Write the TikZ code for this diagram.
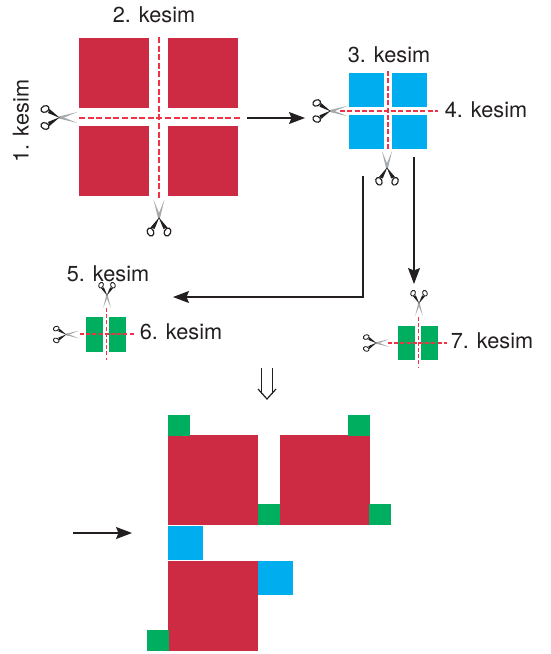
\documentclass[tikz,border=0pt]{standalone}
\usepackage{fontspec}
\setmainfont{TeX Gyre Heros}
\usetikzlibrary{arrows.meta}
\definecolor{redbox}{RGB}{204,43,67}
\definecolor{bluebox}{RGB}{0,174,239}
\definecolor{greenbox}{RGB}{0,174,96}
\definecolor{cutred}{RGB}{240,50,70}
\definecolor{inkdark}{RGB}{35,31,32}
\definecolor{bladegray}{RGB}{165,168,172}
\tikzset{
  redrect/.style={fill=redbox,draw=none},
  bluerect/.style={fill=bluebox,draw=none},
  greenrect/.style={fill=greenbox,draw=none},
  label/.style={font=\fontsize{21.7}{24}\selectfont,text=inkdark,inner sep=0pt},
  cutbig/.style={draw=cutred,line width=1.8pt,dash pattern=on 6pt off 2.6pt},
  cutmid/.style={draw=cutred,line width=1.5pt,dash pattern=on 5pt off 2.3pt},
  cutsmall/.style={draw=cutred,line width=1.25pt,dash pattern=on 4pt off 2.2pt},
  flow/.style={draw=inkdark,line width=1.15pt,-{Stealth[length=16pt,width=12pt,inset=2.5pt]}},
  dblarrow/.style={draw=inkdark,line width=1.2pt},
}
% scissors: pivot at #1,#2; blades toward +x before rotation #3; size factor #4
\newcommand{\scissorsat}[4]{%
  \begin{scope}[shift={(#1,#2)},rotate=#3,scale=#4]
    \fill[bladegray] (0,-1) -- (18.5,-5.5) -- (2,1.2) -- cycle;
    \fill[bladegray] (0,1) -- (18.5,5.5) -- (2,-1.2) -- cycle;
    \fill[inkdark] (1,0.5) -- (-9.5,-8.5) -- (-11,-4.5) -- cycle;
    \fill[inkdark] (1,-0.5) -- (-9.5,8.5) -- (-11,4.5) -- cycle;
    \draw[inkdark,line width={#4*1.2pt},fill=white,rotate around={25:(-14,-8.5)}] (-14,-8.5) ellipse [x radius=4.2,y radius=3.2];
    \draw[inkdark,line width={#4*1.2pt},fill=white,rotate around={-25:(-14,8.5)}] (-14,8.5) ellipse [x radius=4.2,y radius=3.2];
  \end{scope}}
\begin{document}
\begin{tikzpicture}[x=1pt,y=-1pt]
\useasboundingbox (0,0) rectangle (550,654);
\fill[white] (0,0) rectangle (550,654);
% first sheet
\path[redrect] (79,38) rectangle (149,108);
\path[redrect] (168,38) rectangle (238,108);
\path[redrect] (79,126) rectangle (149,196);
\path[redrect] (168,126) rectangle (238,196);
\draw[cutbig] (79,118) -- (241,118);
\draw[cutbig] (159,37) -- (159,200);
\scissorsat{59}{117.5}{0}{1}
\scissorsat{159}{218}{90}{1}
\node[label] at (154,15) {2. kesim};
\node[label,rotate=90] at (21,121) {1. kesim};
% second sheet
\path[bluerect] (349,73) rectangle (384,107);
\path[bluerect] (392,73) rectangle (427,107);
\path[bluerect] (349,115) rectangle (384,149);
\path[bluerect] (392,115) rectangle (427,149);
\draw[cutmid] (340,111) -- (438,111);
\draw[cutmid] (388,71) -- (388,150);
\scissorsat{330}{111}{0}{0.95}
\scissorsat{387}{168}{90}{0.95}
\node[label] at (389,55) {3. kesim};
\node[label] at (486,110) {4. kesim};
% third sheet
\path[greenrect] (86,317) rectangle (103,352);
\path[greenrect] (109,317) rectangle (126,352);
\draw[cutsmall] (80,334) -- (135,334);
\draw[cutsmall] (106.5,308) -- (106.5,360);
\scissorsat{66}{334.5}{0}{0.7}
\scissorsat{107}{295}{-90}{0.7}
\node[label] at (108,274) {5. kesim};
\node[label] at (181,332) {6. kesim};
% fourth sheet
\path[greenrect] (398,326) rectangle (415,360);
\path[greenrect] (421,326) rectangle (438,360);
\draw[cutsmall] (388,343) -- (447,343);
\draw[cutsmall] (418.5,317) -- (418.5,368);
\scissorsat{376}{343}{0}{0.7}
\scissorsat{419}{303}{-90}{0.7}
\node[label] at (492,341) {7. kesim};
% connectors
\coordinate (a1) at (247,118); \coordinate (a2) at (305,118);
\draw[flow] (a1) -- (a2);
\coordinate (b1) at (414,157); \coordinate (b2) at (414,284);
\draw[flow] (b1) -- (b2);
\coordinate (c1) at (363,176); \coordinate (c2) at (363,297); \coordinate (c3) at (173,297);
\draw[flow] (c1) -- (c2) -- (c3);
\coordinate (d1) at (73,533); \coordinate (d2) at (132,533);
\draw[flow] (d1) -- (d2);
% double arrow
\coordinate (e1) at (261.5,368); \coordinate (e2) at (261.5,394);
\coordinate (f1) at (272.5,368); \coordinate (f2) at (272.5,394);
\coordinate (g1) at (258,389); \coordinate (g2) at (267,399); \coordinate (g3) at (276,389);
\draw[dblarrow] (e1) -- (e2);
\draw[dblarrow] (f1) -- (f2);
\draw[dblarrow] (g1) -- (g2) -- (g3);
% assembled
\path[redrect] (168,435) rectangle (258,525);
\path[redrect] (280,435) rectangle (370,525);
\path[redrect] (168,561) rectangle (258,651);
\path[greenrect] (168,415) rectangle (190,436);
\path[greenrect] (348,415) rectangle (370,436);
\path[greenrect] (258,504) rectangle (280,525);
\path[greenrect] (369,504) rectangle (391,525);
\path[greenrect] (147,630) rectangle (169,651);
\path[bluerect] (168,526) rectangle (203,560);
\path[bluerect] (258,561) rectangle (293,595);
\end{tikzpicture}
\end{document}
